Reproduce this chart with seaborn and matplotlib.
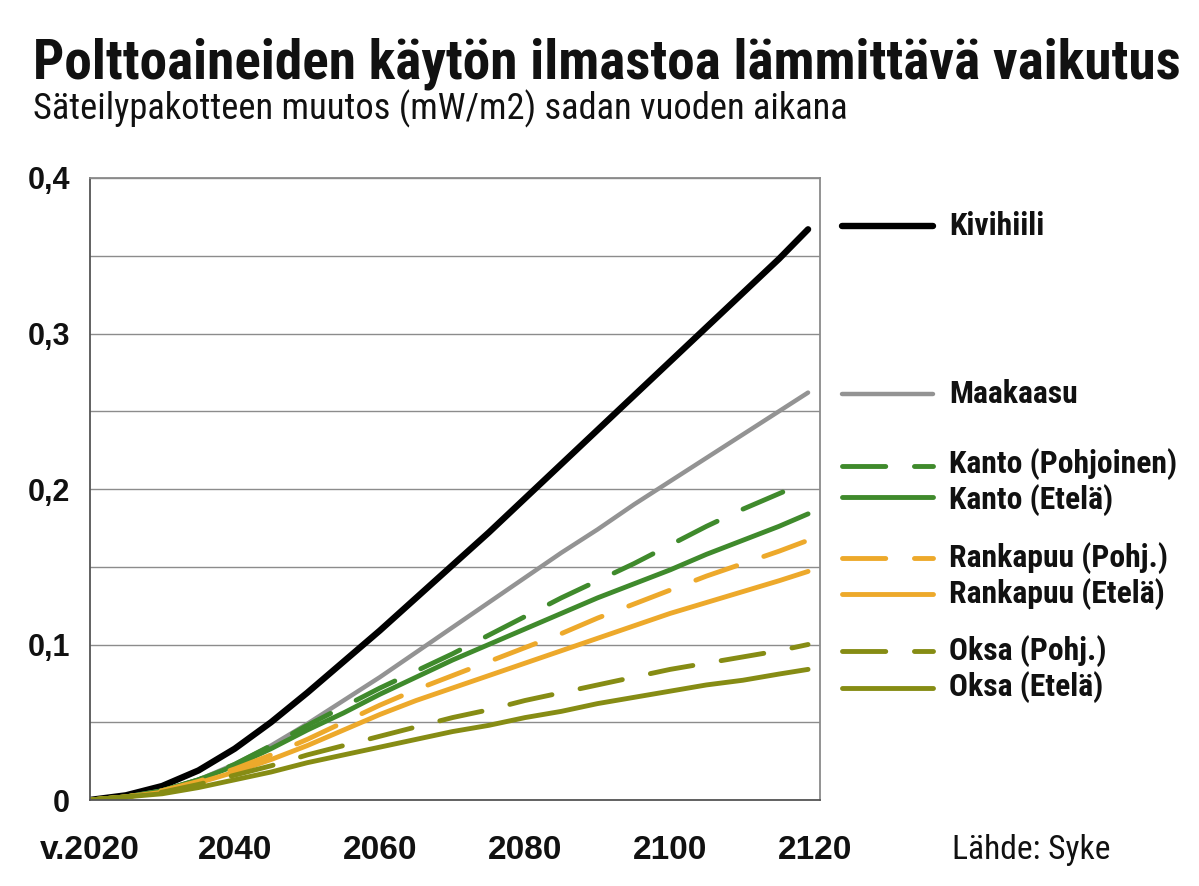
#!/usr/bin/env python3
# Polttoaineiden käytön ilmastoa lämmittävä vaikutus, Syke-aineisto

import matplotlib
matplotlib.use("Agg")
import numpy as np
import pandas as pd
import seaborn as sns
import matplotlib.pyplot as plt
from matplotlib import font_manager
from matplotlib.lines import Line2D
from matplotlib.ticker import FixedLocator, FixedFormatter, MultipleLocator

sns.set_style("white")

W, H = 1199, 886

# --- data -------------------------------------------------------------
YEARS = [2020, 2025, 2030, 2035, 2040, 2045, 2050, 2055, 2060, 2065, 2070,
         2075, 2080, 2085, 2090, 2095, 2100, 2105, 2110, 2115, 2119]

KIVIHIILI = [0, 0.003, 0.009, 0.019, 0.033, 0.050, 0.069, 0.089, 0.109, 0.130,
             0.151, 0.172, 0.194, 0.216, 0.238, 0.260, 0.282, 0.304, 0.326,
             0.348, 0.367]
MAAKAASU = [0, 0.002, 0.006, 0.013, 0.023, 0.035, 0.049, 0.064, 0.079, 0.095,
            0.111, 0.127, 0.143, 0.159, 0.174, 0.190, 0.205, 0.220, 0.235,
            0.250, 0.262]
KANTO_POHJ = [0, 0.002, 0.006, 0.013, 0.023, 0.035, 0.048, 0.060, 0.072, 0.083,
              0.094, 0.106, 0.118, 0.130, 0.141, 0.152, 0.164, 0.176, 0.187,
              0.197, 0.205]
KANTO_ETELA = [0, 0.002, 0.006, 0.013, 0.022, 0.033, 0.045, 0.056, 0.068, 0.079,
               0.090, 0.100, 0.110, 0.120, 0.130, 0.139, 0.148, 0.158, 0.167,
               0.176, 0.184]
RANKA_POHJ = [0, 0.002, 0.006, 0.012, 0.020, 0.029, 0.039, 0.050, 0.061, 0.071,
              0.080, 0.089, 0.098, 0.107, 0.117, 0.126, 0.135, 0.144, 0.152,
              0.160, 0.167]
RANKA_ETELA = [0, 0.002, 0.005, 0.011, 0.018, 0.026, 0.035, 0.045, 0.055, 0.064,
               0.072, 0.080, 0.088, 0.096, 0.104, 0.112, 0.120, 0.127, 0.134,
               0.141, 0.147]
OKSA_POHJ = [0, 0.002, 0.005, 0.010, 0.016, 0.022, 0.029, 0.035, 0.041, 0.047,
             0.053, 0.058, 0.064, 0.069, 0.074, 0.079, 0.084, 0.088, 0.092,
             0.096, 0.100]
OKSA_ETELA = [0, 0.002, 0.004, 0.008, 0.013, 0.018, 0.024, 0.029, 0.034, 0.039,
              0.044, 0.048, 0.053, 0.057, 0.062, 0.066, 0.070, 0.074, 0.077,
              0.081, 0.084]

SERIES = ["Kivihiili", "Maakaasu", "Kanto (Pohjoinen)", "Kanto (Etelä)",
          "Rankapuu (Pohj.)", "Rankapuu (Etelä)", "Oksa (Pohj.)", "Oksa (Etelä)"]
VALUES = [KIVIHIILI, MAAKAASU, KANTO_POHJ, KANTO_ETELA,
          RANKA_POHJ, RANKA_ETELA, OKSA_POHJ, OKSA_ETELA]

X_TICKS = [2020, 2040, 2060, 2080, 2100, 2120]
X_LABELS = ["v.2020", "2040", "2060", "2080", "2100", "2120"]
Y_TICKS = [0, 0.1, 0.2, 0.3, 0.4]
Y_LABELS = ["0", "0,1", "0,2", "0,3", "0,4"]

# --- styles -----------------------------------------------------------
BLACK, GREY = "#000000", "#939393"
GREEN, ORANGE, OLIVE = "#3f8a2c", "#eda92b", "#868c14"
DASH = (8.9, 5.9)

COLORS = dict(zip(SERIES, [BLACK, GREY, GREEN, GREEN, ORANGE, ORANGE, OLIVE, OLIVE]))
WIDTHS = dict(zip(SERIES, [4.6, 3.2, 3.5, 3.5, 3.5, 3.5, 3.5, 3.5]))
DASHES = dict(zip(SERIES, ["", "", DASH, "", DASH, "", DASH, ""]))

# legend layout (pixels from top of figure)
KEY_X = (842, 933)
LABEL_X = 949
KEY_Y = [226, 394, 466, 497, 558, 594, 651, 688]
LABEL_BASE = [235, 403, 473, 509, 567, 603, 660, 696]


def pick_font(names, default="DejaVu Sans"):
    for name in names:
        try:
            font_manager.findfont(font_manager.FontProperties(family=name),
                                  fallback_to_default=False)
            return name
        except ValueError:
            pass
    return default


NARROW = pick_font(["Liberation Sans Narrow", "Roboto Condensed",
                    "Open Sans Condensed", "Lato"])
WIDE = pick_font(["Liberation Sans", "Arial"])
plt.rcParams["font.family"] = [NARROW, "DejaVu Sans"]


def fx(px):
    return px / W


def fy(px):
    return 1 - px / H


def fit_text(fig, x, y, s, width_px, **kw):
    t = fig.text(fx(x), fy(y), s, va="baseline", ha="left", **kw)
    w = t.get_window_extent(fig.canvas.get_renderer()).width
    t.set_fontsize(t.get_fontsize() * width_px / w)
    return t


def main():
    long = pd.DataFrame({
        "vuosi": YEARS * len(SERIES),
        "arvo": np.concatenate(VALUES),
        "laji": np.repeat(SERIES, len(YEARS)),
    })

    fig = plt.figure(figsize=(W / 100, H / 100), dpi=100)
    ax = fig.add_axes([fx(89.6), fy(800), fx(820.4 - 89.6), (800 - 178) / H])

    sns.lineplot(data=long, x="vuosi", y="arvo", hue="laji", style="laji",
                 size="laji", hue_order=SERIES, style_order=SERIES,
                 size_order=SERIES, palette=COLORS, dashes=DASHES, sizes=WIDTHS,
                 errorbar=None, legend=False, ax=ax,
                 solid_capstyle="round", dash_capstyle="round",
                 solid_joinstyle="round")

    ax.set_xlim(2020, 2120.7)
    ax.set_ylim(0, 0.4)
    ax.set_xlabel("")
    ax.set_ylabel("")

    ax.xaxis.set_major_locator(FixedLocator(X_TICKS))
    ax.xaxis.set_major_formatter(FixedFormatter(X_LABELS))
    ax.xaxis.set_minor_locator(MultipleLocator(10))
    ax.yaxis.set_major_locator(FixedLocator(Y_TICKS))
    ax.yaxis.set_major_formatter(FixedFormatter(Y_LABELS))
    ax.yaxis.set_minor_locator(MultipleLocator(0.05))

    ax.yaxis.grid(True, which="both", color="#8c8c8c", lw=1.0)
    ax.xaxis.grid(False)
    ax.set_axisbelow(True)

    ax.tick_params(which="both", direction="out", length=7, width=1.2,
                   color="#555555")
    ax.tick_params(axis="x", which="major", pad=18)
    ax.tick_params(axis="y", which="major", pad=7)
    for lab in ax.get_xticklabels():
        lab.set_fontsize(24)
    for lab in ax.get_yticklabels():
        lab.set_fontsize(22)
    for lab in ax.get_xticklabels() + ax.get_yticklabels():
        lab.set_fontfamily([WIDE, "DejaVu Sans"])
        lab.set_fontweight("bold")
        lab.set_color("#111111")

    for side, sp in ax.spines.items():
        sp.set_visible(True)
        sp.set_linewidth(1.3)
        sp.set_color("#555555" if side in ("left", "bottom") else "#8a8a8a")

    # legend keys and labels
    for name, ky in zip(SERIES, KEY_Y):
        ls = (0, DASHES[name]) if DASHES[name] else "-"
        fig.add_artist(Line2D([fx(KEY_X[0]), fx(KEY_X[1])], [fy(ky), fy(ky)],
                              transform=fig.transFigure, color=COLORS[name],
                              lw=WIDTHS[name], linestyle=ls,
                              solid_capstyle="round", dash_capstyle="round"))
    probe = fit_text(fig, LABEL_X, LABEL_BASE[2], SERIES[2], 227, fontweight="bold")
    size = probe.get_fontsize()
    probe.remove()
    for name, base in zip(SERIES, LABEL_BASE):
        fig.text(fx(LABEL_X), fy(base), name, va="baseline", ha="left",
                 fontweight="bold", fontsize=size, color="#111111")

    fit_text(fig, 33, 78, "Polttoaineiden käytön ilmastoa lämmittävä vaikutus",
             1147, fontweight="bold", color="#111111")
    fit_text(fig, 33, 119, "Säteilypakotteen muutos (mW/m2) sadan vuoden aikana",
             810, color="#111111")
    fit_text(fig, 952, 859, "Lähde: Syke", 158, color="#111111")

    fig.savefig("out.png", dpi=100)


if __name__ == "__main__":
    main()
